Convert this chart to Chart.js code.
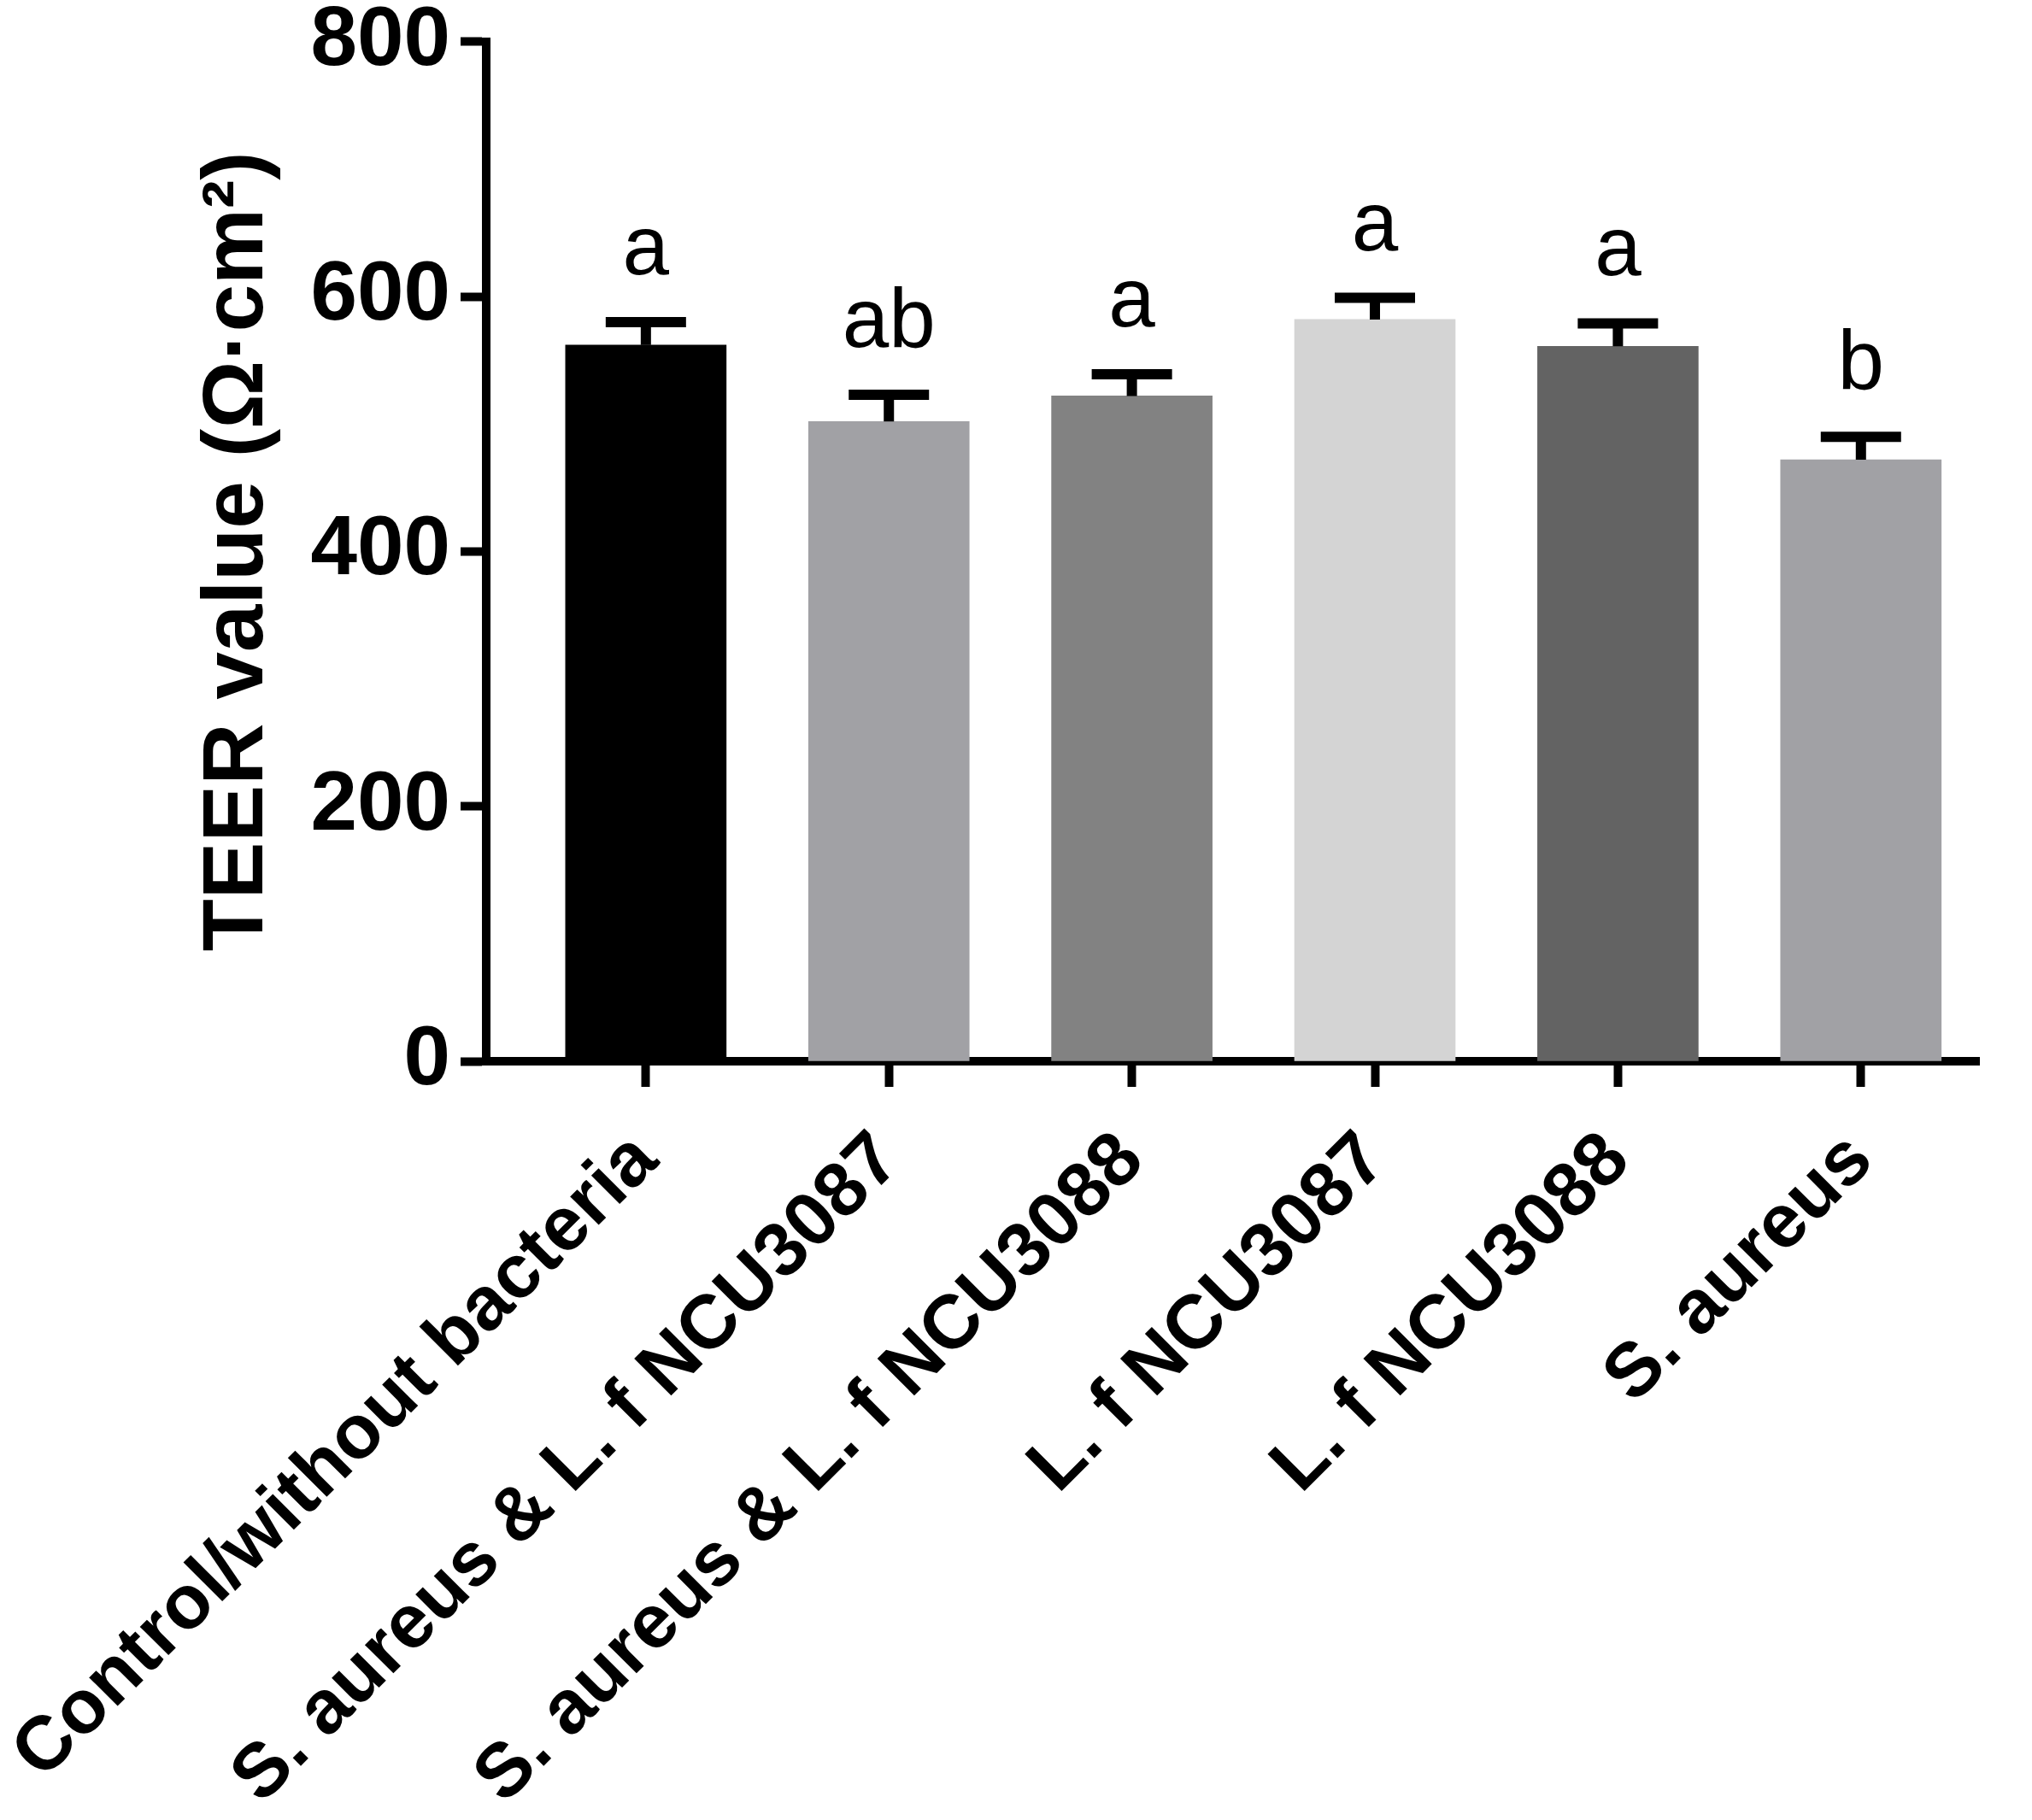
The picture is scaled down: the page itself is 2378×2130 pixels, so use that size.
<!DOCTYPE html>
<html>
<head>
<meta charset="utf-8">
<script src="https://cdn.jsdelivr.net/npm/chart.js@4.4.0/dist/chart.umd.min.js"></script>
<style>
  html, body { margin: 0; padding: 0; background: #fff; }
  #grafico { display: block; }
</style>
</head>
<body>
<canvas id="grafico" width="2378" height="2130"></canvas>
<script>
const grupos = ['Control/without bacteria', 'S. aureus & L. f NCU3087', 'S. aureus & L. f NCU3088', 'L. f NCU3087', 'L. f NCU3088', 'S. aureus'];
const medias = [562, 502, 522, 582, 561, 472];
const desvios = [22, 25, 21, 21, 22, 22];
const letras = ['a', 'ab', 'a', 'a', 'a', 'b'];
const cores = ['#000000', '#a1a1a5', '#828282', '#d4d4d4', '#636363', '#a1a1a5'];
const ticksY = [0, 200, 400, 600, 800];

const fonte = '"Liberation Sans", Arial, Helvetica, sans-serif';

// error bars (upper only) and letters above them
const barrasErro = {
  id: 'barrasErro',
  afterDatasetsDraw(chart) {
    const { ctx, scales: { x, y } } = chart;
    ctx.save();
    ctx.strokeStyle = '#000';
    ctx.fillStyle = '#000';
    ctx.lineWidth = 12;
    ctx.font = '98px ' + fonte;
    ctx.textAlign = 'center';
    ctx.textBaseline = 'alphabetic';
    medias.forEach((m, i) => {
      const px = x.getPixelForValue(i);
      const topo = y.getPixelForValue(m);
      const cap = y.getPixelForValue(m + desvios[i]) + 6;
      ctx.beginPath();
      ctx.moveTo(px, topo);
      ctx.lineTo(px, cap);
      ctx.moveTo(px - 47, cap);
      ctx.lineTo(px + 47, cap);
      ctx.stroke();
      ctx.fillText(letras[i], px, cap - 56);
    });
    ctx.restore();
  }
};

const ctx = document.getElementById('grafico').getContext('2d');
const grafico = new Chart(ctx, {
  type: 'bar',
  data: {
    datasets: [{
      data: medias.map((v, i) => ({ x: i, y: v })),
      backgroundColor: cores,
      borderWidth: 0,
      barThickness: 188
    }]
  },
  options: {
    responsive: false,
    devicePixelRatio: 1,
    animation: false,
    layout: { padding: { left: 219, right: 62, top: 0, bottom: 0 } },
    plugins: {
      legend: { display: false },
      tooltip: { enabled: false }
    },
    scales: {
      x: {
        type: 'linear',
        offset: false,
        min: -0.657,
        max: 5.486,
        afterBuildTicks: s => { s.ticks = grupos.map((_, i) => ({ value: i })); },
        afterFit: s => {
          s.height = 888;
          // long rotated labels may hang out to the left, like in the original
          s.paddingLeft = 0;
          s.paddingRight = 0;
        },
        ticks: {
          callback: v => grupos[v],
          autoSkip: false,
          minRotation: 45,
          maxRotation: 45,
          padding: 34,
          color: '#000',
          font: { family: fonte, size: 89, weight: 'bold' }
        },
        grid: { offset: false, drawOnChartArea: false, tickLength: 30, tickWidth: 10, color: '#000' },
        border: { display: true, width: 10, color: '#000' }
      },
      y: {
        min: 0,
        max: 800,
        afterBuildTicks: s => { s.ticks = ticksY.map(v => ({ value: v })); },
        afterFit: s => { s.width = 350; },
        ticks: {
          padding: 12,
          color: '#000',
          font: { family: fonte, size: 98, weight: 'bold', lineHeight: 0.75 }
        },
        grid: { drawOnChartArea: false, tickLength: 30, tickWidth: 10, color: '#000' },
        border: { display: true, width: 10, color: '#000' },
        title: {
          display: true,
          text: 'TEER value (Ω·cm²)',
          color: '#000',
          padding: 0,
          font: { family: fonte, size: 100, weight: 'bold' }
        }
      }
    }
  },
  plugins: [barrasErro]
});
</script>
</body>
</html>
